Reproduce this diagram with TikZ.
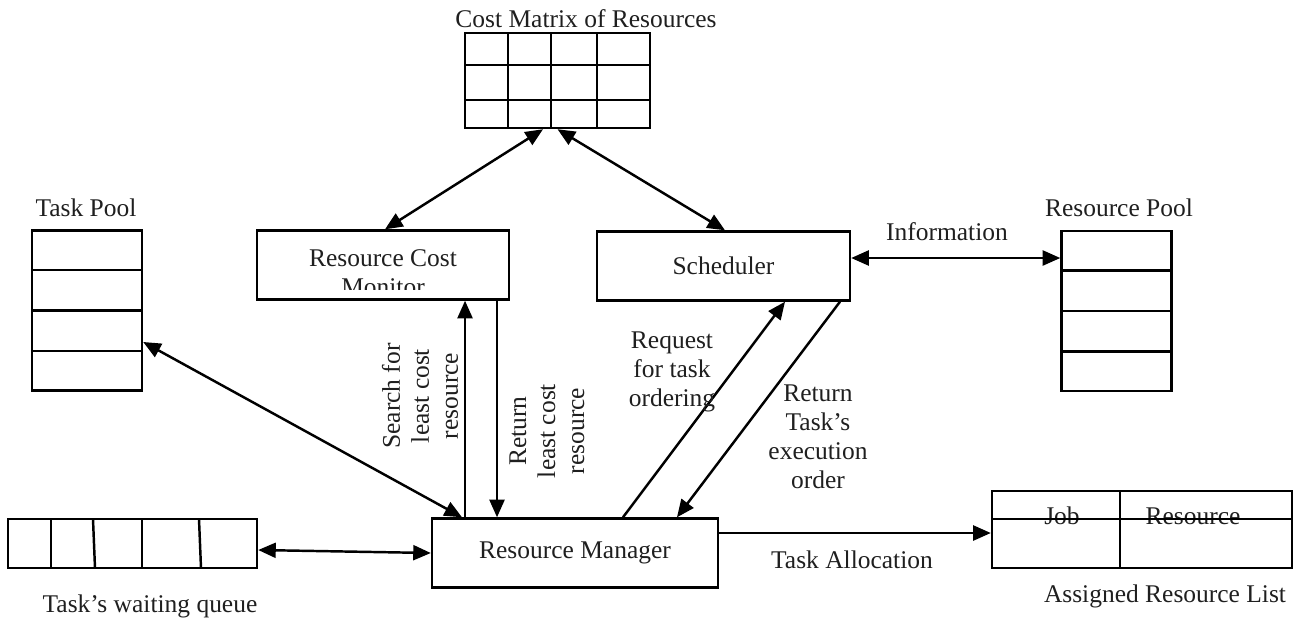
\documentclass[tikz,border=0pt]{standalone}
\usepackage{fontspec}
\setmainfont{Liberation Serif}
\usetikzlibrary{arrows.meta, positioning, calc}

\begin{document}
\begin{tikzpicture}[x=0.02cm, y=-0.02cm,
  every node/.style={font=\fontsize{14.5}{16.5}\selectfont, text=black!88},
  procbox/.style={draw=black, line width=1.4pt, inner sep=0pt, minimum height=1.38cm},
  poolbox/.style={draw=black, line width=1.4pt, inner sep=0pt, minimum width=2.2cm, minimum height=3.2cm},
  grid/.style={line width=1.4pt},
  conn/.style={line width=1.4pt, >={Triangle[length=10pt, width=8.5pt]}},
  vlabel/.style={rotate=90, align=center},
  hlabel/.style={align=center}]
  \useasboundingbox (0,0) rectangle (1301,623);

  % cost matrix
  \node[draw=black, line width=1.4pt, inner sep=0pt, minimum width=3.7cm, minimum height=1.9cm] (costmat) at (557.5,80.5) {};
  \foreach \x in {508,551,597} \draw[grid] (\x,33) -- (\x,128);
  \foreach \y in {65,100} \draw[grid] (465,\y) -- (650,\y);
  \node (costtitle) at (586,19) {Cost Matrix of Resources};

  % pools
  \node[poolbox] (taskpool) at (87,310.5) {};
  \node[poolbox] (respool) at (1116.5,311) {};
  \foreach \p in {taskpool,respool}
    \foreach \f in {0.25,0.5,0.75}
      \draw[grid] ($(\p.north west)!\f!(\p.south west)$) -- ($(\p.north east)!\f!(\p.south east)$);
  \node (tptitle) at (86,208) {Task Pool};
  \node (rptitle) at (1119,208) {Resource Pool};

  % main boxes
  \node[procbox, minimum width=5.04cm] (rcm) at (383,265) {};
  \begin{scope}
    \clip (rcm.north west) rectangle ([yshift=0.22cm]rcm.south east);
    \node[hlabel] (rcmtext) at (383,272.5) {Resource Cost\\Monitor};
  \end{scope}
  \node[procbox, minimum width=5.06cm] (sched) at (723.5,266) {Scheduler};
  \node[procbox, minimum width=5.72cm] (resman) at (575,553) {Resource Manager};

  % waiting queue
  \node[draw=black, line width=1.4pt, inner sep=0pt, minimum width=4.98cm, minimum height=0.98cm] (queue) at (132.5,543.5) {};
  \foreach \a/\b in {51/51, 93/95, 142/142, 199/201} \draw[grid] (\a,519) -- (\b,568);
  \node (qtitle) at (150,606) {Task's waiting queue};

  % assigned resource list
  \node (jobtext) at (1062,516) {Job};
  \node (restext) at (1193,516) {Resource};
  \node[draw=black, line width=1.4pt, inner sep=0pt, minimum width=6cm, minimum height=1.54cm] (arl) at (1142,529.5) {};
  \draw[grid] (992,519) -- (1292,519);
  \draw[grid] (1120,491) -- (1120,568);
  \node (arltitle) at (1165,596) {Assigned Resource List};

  % connectors
  \draw[conn, <->] ([xshift=-0.29cm]costmat.south) -- ([xshift=0.04cm]rcm.north);
  \draw[conn, <->] (costmat.south) -- ([xshift=0.03cm]sched.north);
  \draw[conn, <->] ([yshift=0.16cm]sched.east) -- ([yshift=0.16cm]sched.east -| respool.west);
  \draw[conn, <->] ([yshift=-0.63cm]taskpool.east) -- ([xshift=-2.26cm]resman.north);
  \draw[conn, ->] ([xshift=-2.2cm]resman.north) -- ([xshift=-2.2cm]resman.north |- rcm.south);
  \draw[conn, ->] ([xshift=-1.56cm]resman.north |- rcm.south) -- ([xshift=-1.56cm]resman.north);
  \draw[conn, ->] ([xshift=0.96cm]resman.north) -- ([xshift=1.23cm]sched.south);
  \draw[conn, ->] ([xshift=2.33cm]sched.south) -- ([xshift=2.04cm]resman.north);
  \draw[conn, <->] ([yshift=-0.13cm]queue.east) -- (resman.west);
  \draw[conn, ->] ([yshift=0.4cm]resman.east) -- ([yshift=0.4cm]resman.east -| arl.west);

  % connector labels
  \node (infolbl) at (947,232) {Information};
  \node (alloclbl) at (852,560) {Task Allocation};
  \node[vlabel] (searchlbl) at (420,396) {Search for\\least cost\\resource};
  \node[vlabel] (returnlbl) at (547,431) {Return\\least cost\\resource};
  \node[hlabel] (reqlbl) at (672,372) {Request\\for task\\ordering};
  \node[hlabel] (orderlbl) at (818,437) {Return\\Task's\\execution\\order};
\end{tikzpicture}
\end{document}
